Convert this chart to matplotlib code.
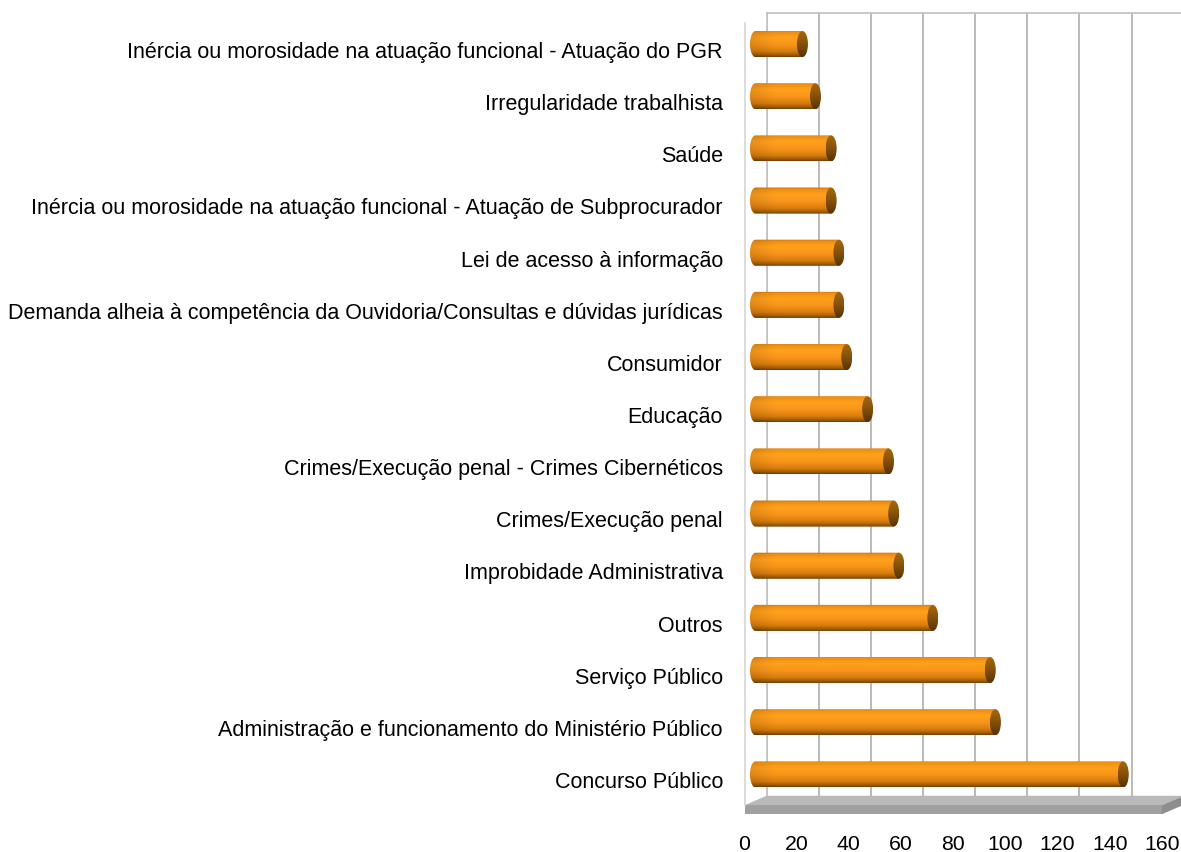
import numpy as np
import matplotlib
matplotlib.use("Agg")
import matplotlib.pyplot as plt
from matplotlib.colors import LinearSegmentedColormap
from matplotlib.patches import Ellipse, PathPatch, Polygon
from matplotlib.path import Path

# ---------------- data ----------------
categories = [
    "Inércia ou morosidade na atuação funcional - Atuação do PGR",
    "Irregularidade trabalhista",
    "Saúde",
    "Inércia ou morosidade na atuação funcional - Atuação de Subprocurador",
    "Lei de acesso à informação",
    "Demanda alheia à competência da Ouvidoria/Consultas e dúvidas jurídicas",
    "Consumidor",
    "Educação",
    "Crimes/Execução penal - Crimes Cibernéticos",
    "Crimes/Execução penal",
    "Improbidade Administrativa",
    "Outros",
    "Serviço Público",
    "Administração e funcionamento do Ministério Público",
    "Concurso Público",
]
values = [18, 23, 29, 29, 32, 32, 35, 43, 51, 53, 55, 68, 90, 92, 141]
x_ticks = [0, 20, 40, 60, 80, 100, 120, 140, 160]

# ---------------- layout ----------------
plt.rcParams["font.family"] = ["Liberation Sans", "DejaVu Sans"]
W, H, DPI = 1181, 853, 100
fig = plt.figure(figsize=(W / DPI, H / DPI), dpi=DPI)
fig.patch.set_facecolor("white")

XMAX = 160
BX0, BX1, BY0, BY1 = 755.5, 1172.8, 19.0, 801.5   # bar plane box (pixels)
DX, DY = 11.0, 4.75                               # half depth offset (pixels)
S = (BX1 - BX0) / XMAX
PADX = 6


def rect(left, top, right, bottom):
    return [left / W, 1 - bottom / H, (right - left) / W, (bottom - top) / H]


n = len(categories)
ylim = (n - 0.5, -0.5)

# back wall with gridlines
back = fig.add_axes(rect(BX0 + DX, BY0 - DY, BX1 + DX, BY1 - DY), zorder=0)
back.set_xlim(0, XMAX)
back.set_ylim(*ylim)
back.set_xticks(x_ticks)
back.set_yticks([])
back.tick_params(length=0, labelbottom=False, labelleft=False)
back.grid(axis="x", color="#b4b4b4", linewidth=1.3)
for s in ["bottom", "right"]:
    back.spines[s].set_visible(False)
for s in ["top", "left"]:
    back.spines[s].set_color("#c4c4c4")
    back.spines[s].set_linewidth(1.3)

# floor (decoration)
fx0, fx1, fy = BX0 - DX, BX1 - DX, BY1 + DY
bx0, bx1, by = BX0 + DX, BX1 + DX, BY1 - DY
TH = 9


def fp(pts):
    return [(x / W, 1 - y / H) for x, y in pts]


floor_top = Polygon(fp([(fx0, fy), (fx1, fy), (bx1, by), (bx0, by)]),
                    closed=True, transform=fig.transFigure,
                    facecolor="#b9b9b9", edgecolor="none", zorder=1)
floor_front = Polygon(fp([(fx0, fy), (fx1, fy), (fx1, fy + TH), (fx0, fy + TH)]),
                      closed=True, transform=fig.transFigure,
                      facecolor="#a0a0a0", edgecolor="none", zorder=1)
floor_side = Polygon(fp([(fx1, fy), (bx1, by), (bx1, by + TH), (fx1, fy + TH)]),
                     closed=True, transform=fig.transFigure,
                     facecolor="#8e8e8e", edgecolor="none", zorder=1)
for p in (floor_top, floor_front, floor_side):
    fig.add_artist(p)

# bar plane
ax = fig.add_axes(rect(BX0 - PADX * S, BY0, BX1 + PADX * S, BY1), zorder=2)
ax.patch.set_visible(False)
ax.axis("off")

body_cmap = LinearSegmentedColormap.from_list("body", [
    (0.00, "#c06e0c"), (0.07, "#f08e12"), (0.28, "#ffa21d"),
    (0.55, "#f7931a"), (0.80, "#d67c0c"), (0.93, "#9e5b07"), (1.00, "#744004")])
cap_cmap = LinearSegmentedColormap.from_list("cap", [
    (0.0, "#a8690f"), (0.5, "#86520a"), (1.0, "#583305")])

y_pos = np.arange(n)
bars = ax.barh(y_pos, values, height=0.5, color="none", edgecolor="none")

CAPW = 11.0 / S  # ellipse width in data units
a = CAPW / 2
for rct in bars:
    w = rct.get_width()
    h = rct.get_height()
    yc = rct.get_y() + h / 2
    b = h / 2
    th = np.linspace(np.pi / 2, 3 * np.pi / 2, 40)
    arc = np.column_stack([a * np.cos(th), yc + b * np.sin(th)])
    verts = np.vstack([[w, yc + b], arc, [w, yc - b], [w, yc + b]])
    codes = [Path.MOVETO] + [Path.LINETO] * (len(verts) - 2) + [Path.CLOSEPOLY]
    outline = PathPatch(Path(verts, codes), transform=ax.transData,
                        facecolor="none", edgecolor="none")
    # body gradient
    ncol = max(int((w + a) * S), 4)
    rows = body_cmap(np.linspace(0, 1, 64))[:, :3]
    dist = np.arange(ncol)
    shade = 0.90 + 0.10 * np.clip(dist / 24.0, 0, 1)
    img = rows[:, None, :] * shade[None, :, None]
    ax.imshow(img, extent=(-a, w, yc + b, yc - b), origin="upper",
              aspect="auto", interpolation="bilinear", clip_path=outline,
              zorder=3)
    # right cap
    cap = Ellipse((w, yc), CAPW, h, transform=ax.transData,
                  facecolor="none", edgecolor="none")
    crow = cap_cmap(np.linspace(0, 1, 32))[:, :3]
    cimg = np.repeat(crow[:, None, :], 8, axis=1)
    ax.imshow(cimg, extent=(w - a, w + a, yc + b, yc - b), origin="upper",
              aspect="auto", interpolation="bilinear", clip_path=cap,
              zorder=4)

ax.set_xlim(-PADX, XMAX + PADX)
ax.set_ylim(*ylim)

# front plane: tick labels and front edge of side wall
front = fig.add_axes(rect(BX0 - DX, BY0 + DY, BX1 - DX, BY1 + DY), zorder=3)
front.patch.set_visible(False)
front.set_xlim(0, XMAX)
front.set_ylim(*ylim)
front.set_xticks(x_ticks)
front.set_xticklabels([str(t) for t in x_ticks], fontsize=15.3)
front.set_yticks(y_pos)
front.set_yticklabels(categories, fontsize=15.5)
front.tick_params(axis="x", length=0, pad=21)
front.tick_params(axis="y", length=0, pad=15.5)
for s in ["top", "right", "bottom"]:
    front.spines[s].set_visible(False)
front.spines["left"].set_color("#d6d6d6")
front.spines["left"].set_linewidth(1.2)

fig.savefig("out.png", dpi=DPI, facecolor="white")
